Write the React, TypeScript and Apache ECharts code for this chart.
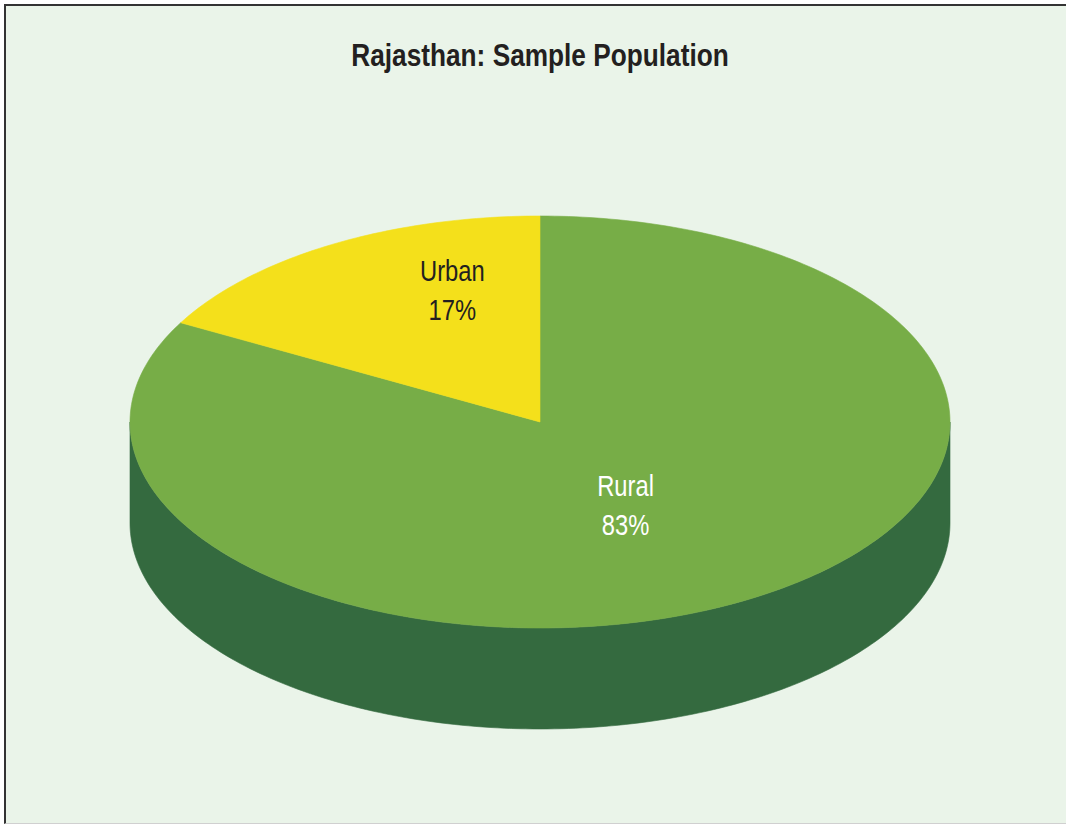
import React, { useEffect, useRef } from "react";
import * as echarts from "echarts";

// ---- data ----
const title = "Rajasthan: Sample Population";
const categories = ["Rural", "Urban"];
const values = [83, 17];

// ---- style / layout ----
const topColors = ["#77AD47", "#F4E01B"];
const sideColors = ["#346A3F", "#A89A10"];
const labelColors = ["#FFFFFF", "#231F20"];
// label placement as radial fractions (x, y) along the slice's mid-angle
const labelFrac = [
  [0.41, 0.47],
  [0.42, 0.74],
];
const CX = 540;
const CY = 422;
const RX = 410;
const RY = 206;
const DEPTH = 101;
const FONT = '"Liberation Sans", Arial, sans-serif';
const NARROW = 0.82; // emulate a condensed face

export default function App() {
  const ref = useRef<HTMLDivElement>(null);

  useEffect(() => {
    if (!ref.current) return;
    const chart = echarts.init(ref.current, null, { renderer: "svg" });
    const total = values.reduce((a, b) => a + b, 0);

    const pt = (t: number, dy = 0) => [CX + RX * Math.sin(t), CY - RY * Math.cos(t) + dy];
    const arc = (s: number, e: number, dy = 0) => {
      const n = Math.max(2, Math.ceil(((e - s) / (2 * Math.PI)) * 360));
      const out: number[][] = [];
      for (let k = 0; k <= n; k++) out.push(pt(s + ((e - s) * k) / n, dy));
      return out;
    };

    const renderItem = (params: any, api: any) => {
      const i = params.dataIndex;
      const v = api.value(0) as number;
      let start = 0;
      for (let j = 0; j < i; j++) start += values[j];
      const a0 = (start / total) * 2 * Math.PI;
      const a1 = ((start + v) / total) * 2 * Math.PI;
      const children: any[] = [];

      // visible side wall (front half of the ellipse)
      const ranges = [
        [Math.PI / 2, (3 * Math.PI) / 2],
        [(5 * Math.PI) / 2, (7 * Math.PI) / 2],
      ];
      for (const [lo, hi] of ranges) {
        const s = Math.max(a0, lo);
        const e = Math.min(a1, hi);
        if (e > s) {
          const pts = [...arc(s, e, 0), ...arc(s, e, DEPTH).reverse()];
          children.push({
            type: "polygon",
            z2: 1,
            shape: { points: pts },
            style: { fill: sideColors[i], stroke: sideColors[i], lineWidth: 0.6 },
          });
        }
      }

      // top face
      children.push({
        type: "polygon",
        z2: 5,
        shape: { points: [[CX, CY], ...arc(a0, a1, 0)] },
        style: { fill: topColors[i], stroke: topColors[i], lineWidth: 0.6 },
      });

      // label
      const mid = (a0 + a1) / 2;
      const pct = Math.round((v / total) * 100);
      children.push({
        type: "text",
        z2: 10,
        x: CX + RX * labelFrac[i][0] * Math.sin(mid),
        y: CY - RY * labelFrac[i][1] * Math.cos(mid),
        scaleX: NARROW,
        style: {
          text: `${categories[i]}\n${pct}%`,
          fill: labelColors[i],
          font: `29px ${FONT}`,
          align: "center",
          verticalAlign: "middle",
          lineHeight: 39,
        },
      });

      return { type: "group", children };
    };

    chart.setOption({
      animation: false,
      backgroundColor: "transparent",
      graphic: [
        {
          type: "text",
          x: 540,
          y: 55,
          scaleX: NARROW,
          style: {
            text: title,
            fill: "#231F20",
            font: `bold 32px ${FONT}`,
            align: "center",
            verticalAlign: "middle",
          },
        },
      ],
      series: [
        {
          type: "custom",
          coordinateSystem: "none",
          renderItem,
          data: values.map((v, i) => ({ name: categories[i], value: [v] })),
        },
      ],
    });

    return () => chart.dispose();
  }, []);

  return (
    <div style={{ position: "fixed", left: 0, top: 0, width: 1066, height: 825, background: "#FFFFFF" }}>
      <div
        style={{
          position: "absolute",
          left: 4,
          top: 4,
          width: 1062,
          height: 820,
          boxSizing: "border-box",
          background: "#EAF4E9",
          borderTop: "2px solid #333333",
          borderLeft: "2px solid #333333",
          borderBottom: "1px solid #D0D0D0",
        }}
      />
      <div ref={ref} style={{ position: "absolute", left: 0, top: 0, width: 1066, height: 825 }} />
    </div>
  );
}
